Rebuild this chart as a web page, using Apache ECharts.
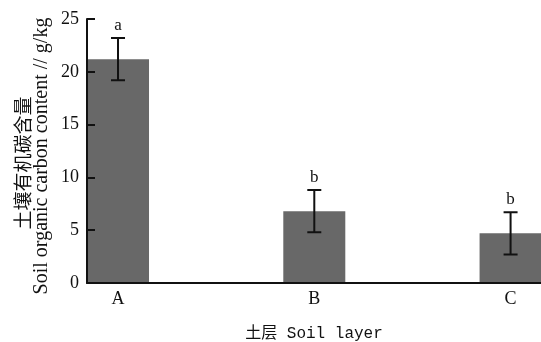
<!DOCTYPE html>
<html>
<head>
<meta charset="utf-8">
<script src="https://cdn.jsdelivr.net/npm/echarts@6/dist/echarts.min.js"></script>
<style>html,body{margin:0;padding:0;background:#fff}#c{width:541px;height:342px}</style>
</head>
<body>
<div id="c"></div>
<script>
const categories = ['A', 'B', 'C'];
const means = [21.2, 6.8, 4.7];
const errors = [2.0, 2.0, 2.0];
const letters = ['a', 'b', 'b'];
const yTicks = [0, 5, 10, 15, 20, 25];

const serif = "'Liberation Serif','Noto Sans CJK SC',serif";
const chart = echarts.init(document.getElementById('c'), null, {renderer: 'canvas'});
const barData = means.map((v, i) => [i, v]);
const errData = means.map((v, i) => [i, v - errors[i], v + errors[i]]);

chart.setOption({
  backgroundColor: '#ffffff',
  animation: false,
  grid: {left: 87, right: 0, top: 19, bottom: 59, containLabel: false, outerBoundsMode: 'none'},
  xAxis: {
    type: 'value',
    min: -0.158, max: 2.155,
    z: 5,
    splitLine: {show: false},
    axisLine: {show: true, onZero: false, lineStyle: {color: '#111', width: 2}},
    axisTick: {show: false},
    axisLabel: {
      customValues: [0, 1, 2],
      formatter: v => categories[Math.round(v)] || '',
      color: '#111', fontFamily: serif, fontSize: 18, margin: 7
    },
    name: '土层 Soil layer',
    nameLocation: 'middle',
    nameGap: 43,
    nameMoveOverlap: false,
    nameTextStyle: {color: '#111', fontFamily: "'Liberation Mono','Noto Sans CJK SC',monospace", fontSize: 16}
  },
  yAxis: {
    type: 'value',
    min: yTicks[0], max: yTicks[yTicks.length - 1], interval: 5,
    z: 5,
    splitLine: {show: false},
    axisLine: {show: true, onZero: false, lineStyle: {color: '#111', width: 2}},
    axisTick: {show: true, inside: true, length: 8, lineStyle: {color: '#111', width: 2}},
    axisLabel: {color: '#111', fontFamily: serif, fontSize: 18, margin: 8},
    name: '{zh|土壤有机碳含量}\n{en|Soil organic carbon content // g/kg}',
    nameLocation: 'middle',
    nameRotate: 90,
    nameGap: 36,
    nameMoveOverlap: false,
    nameTextStyle: {
      color: '#111', fontFamily: serif, fontSize: 20, lineHeight: 19,
      rich: {
        zh: {fontFamily: "'Noto Sans CJK SC',serif", fontSize: 19, lineHeight: 19, color: '#111', padding: [0, 24, 0, 0]},
        en: {fontFamily: serif, fontSize: 20, lineHeight: 19, color: '#111', padding: [0, 10, 0, 0]}
      }
    }
  },
  series: [
    {
      type: 'bar',
      data: barData,
      barWidth: 62,
      z: 2,
      itemStyle: {color: '#686868'}
    },
    {
      type: 'custom',
      data: errData,
      z: 10,
      clip: false,
      renderItem: function (params, api) {
        const x = api.value(0);
        const lo = api.coord([x, api.value(1)]);
        const hi = api.coord([x, api.value(2)]);
        const cw = 7;
        return {
          type: 'group',
          children: [
            {type: 'path', shape: {pathData:
              'M' + (hi[0] - cw) + ' ' + hi[1] + 'L' + (hi[0] + cw) + ' ' + hi[1] +
              'M' + hi[0] + ' ' + hi[1] + 'L' + lo[0] + ' ' + lo[1] +
              'M' + (lo[0] - cw) + ' ' + lo[1] + 'L' + (lo[0] + cw) + ' ' + lo[1]},
              style: {stroke: '#111', lineWidth: 2, fill: null}},
            {type: 'text', style: {text: letters[params.dataIndex], x: hi[0], y: hi[1] - 4, align: 'center', verticalAlign: 'bottom', fill: '#111', font: "17px 'Liberation Serif', serif"}}
          ]
        };
      }
    }
  ]
});
</script>
</body>
</html>
